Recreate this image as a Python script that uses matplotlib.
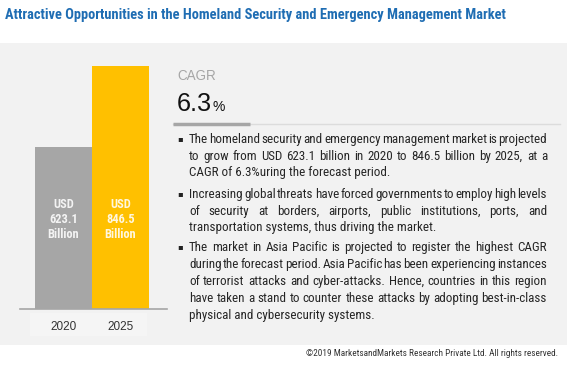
import matplotlib
matplotlib.use("Agg")
import matplotlib.pyplot as plt
from matplotlib import font_manager
from matplotlib.patches import Rectangle
from matplotlib.lines import Line2D

# ---------------- data ----------------
years = ["2020", "2025"]
values = [623.1, 846.5]
bar_labels = ["USD\n623.1\nBillion", "USD\n846.5\nBillion"]
bar_colors = ["#a6a6a6", "#ffc000"]
title = "Attractive Opportunities in the Homeland Security and Emergency Management Market"
cagr_label = "CAGR"
cagr_value = "6.3"
paragraphs = [
    ["The homeland security and emergency management market is projected",
     "to grow from USD 623.1 billion in 2020 to 846.5 billion by 2025, at a",
     "CAGR of 6.3%uring the forecast period."],
    ["Increasing global threats have forced governments to employ high levels",
     "of security at borders, airports, public institutions, ports, and",
     "transportation systems, thus driving the market."],
    ["The market in Asia Pacific is projected to register the highest CAGR",
     "during the forecast period. Asia Pacific has been experiencing instances",
     "of terrorist attacks and cyber-attacks. Hence, countries in this region",
     "have taken a stand to counter these attacks by adopting best-in-class",
     "physical and cybersecurity systems."],
]
copyright_text = "\u00a92019 MarketsandMarkets Research Private Ltd. All rights reserved."

# ---------------- fonts ----------------
fl = font_manager.fontManager.ttflist
names = {f.name for f in fl}
narrow_kw = None
for cand in ["Liberation Sans Narrow", "Roboto Condensed", "Open Sans Condensed"]:
    if cand in names:
        narrow_kw = dict(family=cand)
        break
if narrow_kw is None:
    if any(f.name == "DejaVu Sans" and str(f.stretch) in ("condensed", "semi-condensed")
           for f in fl):
        narrow_kw = dict(family="DejaVu Sans", fontstretch="condensed")
    else:
        narrow_kw = dict(family="Liberation Sans" if "Liberation Sans" in names else "DejaVu Sans")
regular = "Liberation Sans" if "Liberation Sans" in names else "DejaVu Sans"

W, H = 567, 369
fig = plt.figure(figsize=(W / 100, H / 100), dpi=100)
fig.patch.set_facecolor("white")

def fx(x):
    return x / W

def fy(y):
    return 1 - y / H

# background panel
fig.add_artist(Rectangle((0, fy(345)), 1, (345 - 43) / H, transform=fig.transFigure,
                         facecolor="#f2f2f2", edgecolor="none", zorder=-3))
# year label band
fig.add_artist(Rectangle((fx(30), fy(336)), (147 - 30) / W, (336 - 313) / H,
                         transform=fig.transFigure, facecolor="#f5f5f5",
                         edgecolor="none", zorder=-2))

renderer = fig.canvas.get_renderer()

def fit(t, width):
    w = t.get_window_extent(renderer).width
    t.set_fontsize(t.get_fontsize() * width / w)
    return t

# title
fit(fig.text(fx(5), fy(15), title, va="center", ha="left", fontsize=10,
             fontweight="bold", color="#1f6db3", **narrow_kw), 500)

# bar chart
ax_l, ax_r, ax_b, ax_t = 20, 167, 309, 60
ax = fig.add_axes([fx(ax_l), fy(ax_b), (ax_r - ax_l) / W, (ax_b - ax_t) / H])
ax.patch.set_alpha(0)
x = [0, 1]
ax.bar(x, values, width=1.0, color=bar_colors, zorder=2)
px_per_unit = 57.0
ax.set_xlim(-0.5 - 15 / px_per_unit, 1.5 + 18 / px_per_unit)
base = 176.3
scale = 0.3626  # px per USD bn
ax.set_ylim(base, base + (ax_b - ax_t) / scale)
for s in ["top", "right", "left"]:
    ax.spines[s].set_visible(False)
ax.spines["bottom"].set_color("#a6a6a6")
ax.spines["bottom"].set_linewidth(1.2)
ax.set_yticks([])
ax.set_xticks(x)
ax.set_xticklabels(years, fontsize=8.5, color="#333333", family=regular)
ax.tick_params(axis="x", length=0, pad=9)
for xi, lab in zip(x, bar_labels):
    t = ax.text(xi, base + (309 - 219.5) / scale, lab, ha="center", va="center",
                color="white", alpha=0.88, fontsize=9, fontweight="bold",
                linespacing=1.22, zorder=3, **narrow_kw)
    fit(t, 32)

# CAGR block
fit(fig.text(fx(177), fy(76), cagr_label, ha="left", va="center", fontsize=12,
             color="#a6a6a6", family=regular), 39)
t63 = fit(fig.text(fx(177), fy(104), cagr_value, ha="left", va="center", fontsize=21,
                   color="#111111", family=regular), 35)
bb = t63.get_window_extent(renderer)
fig.text(bb.x1 / W + 0.001, fy(107), "%", ha="left", va="center",
         fontsize=10, color="#111111", family=regular)
fig.add_artist(Line2D([fx(173), fx(560)], [fy(124), fy(124)], transform=fig.transFigure,
                      color="#dcdcdc", lw=1.0))
fig.add_artist(Line2D([fx(173), fx(250)], [fy(124), fy(124)], transform=fig.transFigure,
                      color="#a6a6a6", lw=2.5, solid_capstyle="butt"))

# bullet paragraphs, justified
left, right = 189, 547
line_y = [[139, 156, 172], [194, 211, 227], [247, 264, 281, 298, 315]]
probe = fit(fig.text(0, 0, "transportation systems, thus driving the market.",
                     fontsize=8, **narrow_kw), 247)
fs = probe.get_fontsize()
probe.remove()
base_off = 3.6  # px from line centre to baseline
for para, ys in zip(paragraphs, line_y):
    fig.text(fx(180), fy(ys[0]), "\u25aa", ha="center", va="center", fontsize=6,
             color="#222222", family="DejaVu Sans")
    for i, (line, y) in enumerate(zip(para, ys)):
        yb = fy(y + base_off)
        last = i == len(para) - 1
        if last:
            fig.text(fx(left), yb, line, ha="left", va="baseline", fontsize=fs,
                     color="#262626", **narrow_kw)
            continue
        words = line.split(" ")
        arts = [fig.text(0, yb, w_, ha="left", va="baseline", fontsize=fs,
                         color="#262626", **narrow_kw) for w_ in words]
        widths = [a.get_window_extent(renderer).width for a in arts]
        gap = (right - left - sum(widths)) / (len(words) - 1)
        xpos = left
        for a, wd in zip(arts, widths):
            a.set_x(fx(xpos))
            xpos += wd + gap

# footer
fit(fig.text(fx(558), fy(354), copyright_text, ha="right", va="center", fontsize=6.5,
             color="#333333", **narrow_kw), 250)

fig.savefig("out.png", dpi=100, facecolor="white")
